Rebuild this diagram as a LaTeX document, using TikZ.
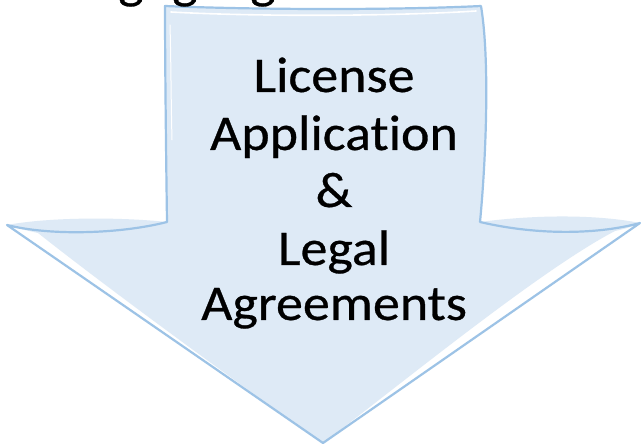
\documentclass[tikz,border=0pt]{standalone}
\usepackage{fontspec}
\setmainfont{Carlito}[Ligatures={NoCommon}, FakeStretch=1.08, FakeBold=0.6]
\definecolor{arrowfill}{HTML}{DEEAF6}
\definecolor{arrowline}{HTML}{9DC3E6}
\begin{document}
\begin{tikzpicture}[x=1pt,y=-1pt,
  lbl/.style={font=\fontsize{50}{57}\selectfont, anchor=base, inner sep=0pt, text=black},
  outline/.style={draw=arrowline, line width=2.2pt, line join=round, line cap=round},
  hilite/.style={draw=white, line width=1.6pt, line cap=round}]
\useasboundingbox (0,0) rectangle (641,446);
\fill[white] (0,0) rectangle (641,446);
% fill (slightly offset from outline, sketch style)
\fill[arrowfill] (165,6) .. controls (260,10) and (400,10) .. (481,6)
  .. controls (490,60) and (486,160) .. (480,222)
  .. controls (540,214) and (600,215) .. (640,223)
  .. controls (632,227) and (624,229) .. (615,231)
  .. controls (540,270) and (400,385) .. (323,443)
  .. controls (240,385) and (110,290) .. (38,233)
  .. controls (25,230) and (15,228) .. (7,225)
  .. controls (50,217) and (120,217) .. (167,222)
  .. controls (166,150) and (165,60) .. (165,6) -- cycle;
% highlights
\draw[hilite] (171,12) .. controls (260,17) and (400,16) .. (476,11);
\draw[hilite, line width=1pt] (170,25) .. controls (171,60) and (171,100) .. (172,140);
% outline
\coordinate (tl) at (165,6);
\coordinate (tr) at (481,6);
\coordinate (rc) at (480,222);
\coordinate (rt) at (640,223);
\coordinate (bt) at (323,443);
\coordinate (lt) at (7,225);
\coordinate (lc) at (167,222);
\draw[outline] (tl) .. controls (260,10) and (400,10) .. (tr)
  .. controls (490,60) and (486,160) .. (rc)
  .. controls (540,236) and (600,234) .. (rt)
  -- (bt) -- (lt)
  .. controls (50,236) and (120,234) .. (lc)
  .. controls (166,150) and (165,60) .. (tl) -- cycle;
% text
\node[lbl] (l1) at (334,92) {License};
\node[lbl] (l2) at (334,150) {Application};
\node[lbl] (l3) at (334,207) {\&};
\node[lbl] (l4) at (334,265) {Legal};
\node[lbl] (l5) at (334,320) {Agreements};
% cut-off text at the top
\node[lbl] (g1) at (131,-2) {g};
\node[lbl] (g2) at (185,-2) {g};
\node[lbl] (g3) at (263,-2) {g};
\end{tikzpicture}
\end{document}
